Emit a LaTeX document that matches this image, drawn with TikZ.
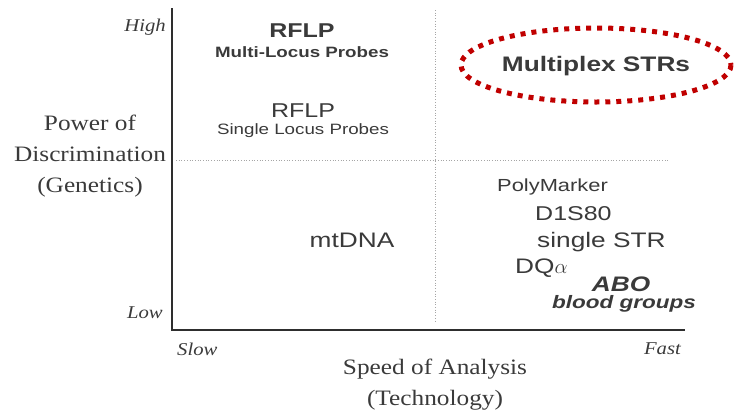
\documentclass[tikz,border=0pt]{standalone}
\usepackage{fontspec}
\usepackage{xcolor}
\usepackage{tikz}
\usetikzlibrary{positioning}
\newfontfamily\arialx[FakeStretch=1.25]{Liberation Sans}
\newfontfamily\timesx[FakeStretch=1.15]{Liberation Serif}
\definecolor{inkGray}{HTML}{3A3A3A}
\definecolor{axisGray}{HTML}{2E2E2E}
\definecolor{ringRed}{HTML}{C00000}
\tikzset{
  sanslab/.style={inner sep=0pt, text=inkGray, font=\arialx\fontsize{#1}{#1}\selectfont},
  sansbold/.style={inner sep=0pt, text=inkGray, font=\arialx\bfseries\fontsize{#1}{#1}\selectfont},
  sansboldit/.style={inner sep=0pt, text=inkGray, font=\arialx\bfseries\itshape\fontsize{#1}{#1}\selectfont},
  seriflab/.style={inner sep=0pt, text=inkGray, align=center, font=\timesx\fontsize{22}{31}\selectfont},
  ticklab/.style={inner sep=0pt, text=inkGray, font=\timesx\itshape\fontsize{18}{18}\selectfont},
  axisline/.style={draw=axisGray, line width=2pt},
  gridline/.style={draw=gray!70, line width=0.7pt, dotted}
}

\begin{document}
\begin{tikzpicture}[x=1pt, y=-1pt]
\useasboundingbox (0,0) rectangle (735,410);

% Axes
\coordinate (ytop) at (172,8);
\coordinate (orig) at (172,330);
\coordinate (xend) at (685,330);
\draw[axisline] (ytop) -- (orig) -- (xend);

% Quadrant dividers
\coordinate (hl) at (176,160);
\coordinate (hr) at (670,160);
\coordinate (vt) at (435,10);
\coordinate (vb) at (435,322);
\draw[gridline] (hl) -- (hr);
\draw[gridline] (vt) -- (vb);

% Axis end labels
\node[ticklab, anchor=east] (high) at (166,27) {High};
\node[ticklab, anchor=east] (low) at (163,313) {Low};
\node[ticklab, anchor=west] (slow) at (177,349) {Slow};
\node[ticklab, anchor=east] (fast) at (681,349) {Fast};

% Axis titles
\node[seriflab] (ytitle) at (90,156) {Power of\\Discrimination\\(Genetics)};
\node[seriflab] (xtitle) at (435,385) {Speed of Analysis\\(Technology)};

% Upper left quadrant
\node[sansbold=20] (rflpm) at (302,31) {RFLP};
\node[sansbold=15] (multi) at (302,52) {Multi-Locus Probes};
\node[sanslab=20] (rflps) at (303,111) {RFLP};
\node[sanslab=15] (single) at (303,131) {Single Locus Probes};

% Upper right quadrant
\node[sansbold=21] (mstr) at (596,66) {Multiplex STRs};
\draw[ringRed, line width=5pt, dash pattern=on 5pt off 6pt] (596,65) ellipse [x radius=135, y radius=37];

% Lower quadrants
\node[sanslab=21] (mtdna) at (352,240) {mtDNA};
\node[sanslab=17.5, anchor=west] (poly) at (497,187) {PolyMarker};
\node[sanslab=20, anchor=west] (d1s) at (535,214) {D1S80};
\node[sanslab=21, anchor=west] (sstr) at (537,242) {single STR};
\node[sanslab=21, anchor=west] (dqa) at (515,268) {DQ$\alpha$};
\node[sansboldit=21] (abo) at (621,284) {ABO};
\node[sansboldit=18] (blood) at (624,304) {blood groups};

\end{tikzpicture}
\end{document}
